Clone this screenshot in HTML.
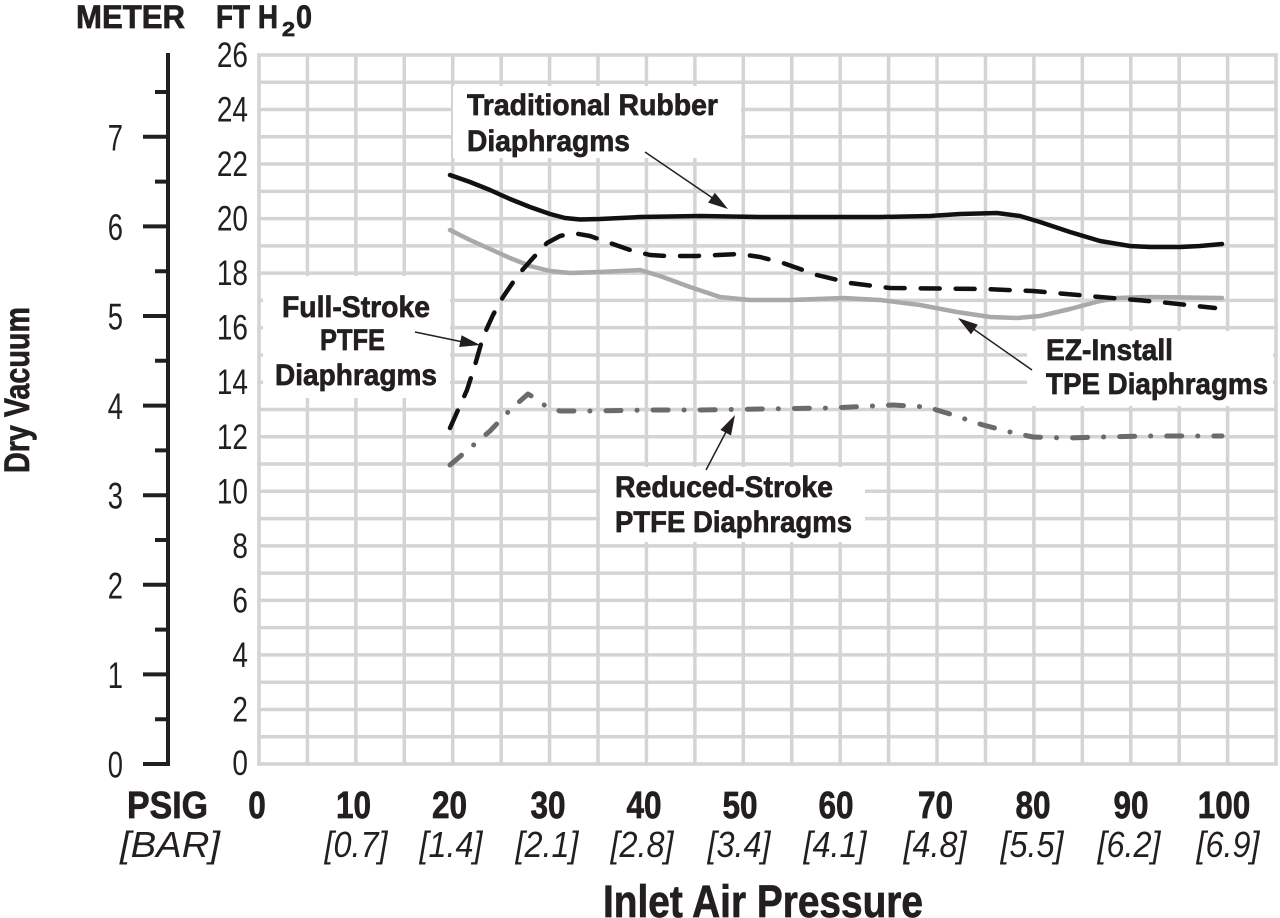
<!DOCTYPE html>
<html>
<head>
<meta charset="utf-8">
<style>
  html,body{margin:0;padding:0;background:#fff;}
  svg{display:block;}
  text{font-family:"Liberation Sans", Arial, sans-serif; fill:#231f20;}
  .b{font-weight:bold; stroke:#231f20; stroke-width:0.7px;}
  .i{font-style:italic;}
</style>
</head>
<body>
<svg width="1280" height="918" viewBox="0 0 1280 918" xmlns="http://www.w3.org/2000/svg">
  <rect width="1280" height="918" fill="#fff"/>

  <!-- grid -->
  <g stroke="#d3d4d6" stroke-width="3.5" fill="none" stroke-linecap="square">
    <path d="M259 764H1276 M259 736.73H1276 M259 709.46H1276 M259 682.19H1276 M259 654.92H1276 M259 627.65H1276 M259 600.38H1276 M259 573.11H1276 M259 545.84H1276 M259 518.57H1276 M259 491.3H1276 M259 464.03H1276 M259 436.76H1276 M259 409.49H1276 M259 382.22H1276 M259 354.95H1276 M259 327.68H1276 M259 300.41H1276 M259 273.14H1276 M259 245.87H1276 M259 218.6H1276 M259 191.33H1276 M259 164.06H1276 M259 136.79H1276 M259 109.52H1276 M259 82.25H1276 M259 55H1276"/>
    <path d="M259 55V764 M307.43 55V764 M355.86 55V764 M404.29 55V764 M452.72 55V764 M501.15 55V764 M549.58 55V764 M598.01 55V764 M646.44 55V764 M694.87 55V764 M743.3 55V764 M791.73 55V764 M840.16 55V764 M888.59 55V764 M937.02 55V764 M985.45 55V764 M1033.88 55V764 M1082.31 55V764 M1130.74 55V764 M1179.17 55V764 M1227.6 55V764 M1276.03 55V764"/>
  </g>

  <!-- white label boxes -->
  <g fill="#fff">
    <rect x="453" y="86" width="288" height="72"/>
    <rect x="263" y="276" width="187" height="122"/>
    <rect x="1027" y="331" width="246" height="75"/>
    <rect x="600" y="467" width="265" height="75"/>
  </g>

  <!-- series -->
  <g fill="none" stroke-linejoin="round">
    <polyline stroke="#a9a9ab" stroke-width="4.5" stroke-linecap="round"
      points="450,230 470,240 490,249 510,258 530,266 550,271 570,273 600,272 640,270 660,276 690,287 720,297 750,300 790,300 843,298 880,300 920,305 957,312 990,317 1017,318 1040,316 1070,309 1100,301 1117,298 1150,297 1222,298"/>
    <polyline stroke="#111" stroke-width="4.5" stroke-linecap="round"
      points="450,175 470,182 490,190 510,199 530,207 550,214 565,218 580,219.5 600,219 640,217 700,216 760,217 820,217 880,217 930,216 960,214 997,213 1020,216 1040,222 1070,232 1100,241 1130,246 1150,247 1180,247 1200,246 1222,244"/>
    <polyline stroke="#111" stroke-width="4.5" stroke-linecap="round" stroke-dasharray="19 16"
      points="450,428 458,410 467,390 475,365 483,337 493,315 503,297 518,275 533,258 547,243 560,236 573,233 590,236 610,243 630,250 650,255 667,256 697,256 740,254 760,257 783,263 817,275 850,283 890,288 983,289 1033,291 1100,297 1160,302 1215,308"/>
    <polyline stroke="#6b6b6d" stroke-width="5" stroke-linecap="round" stroke-dasharray="15 16 0.1 16"
      points="450,465 470,448 490,431 510,410 528,394 538,400 548,408 560,411 590,411 650,410 700,410 760,409 830,408 893,405 910,406 927,407 950,414 983,425 1010,432 1033,437 1067,438 1100,437 1150,436 1222,436"/>
  </g>

  <!-- arrows -->
  <g stroke="#231f20" stroke-width="1.5" fill="none">
    <line x1="645" y1="152" x2="714" y2="199"/>
    <line x1="415" y1="332" x2="463" y2="342"/>
    <line x1="1032" y1="370" x2="972" y2="328"/>
    <line x1="706" y1="470" x2="727" y2="430"/>
  </g>
  <g fill="#231f20">
    <polygon points="728,209 708.1,202.6 714.9,192.8"/>
    <polygon points="480,345 459.2,347 461.6,335.2"/>
    <polygon points="958,318 977.8,324.6 971,334.4"/>
    <polygon points="735,415 731,435.5 720.4,429.9"/>
  </g>

  <!-- annotation labels -->
  <g font-size="30">
    <text class="b" x="467" y="115" textLength="251" lengthAdjust="spacingAndGlyphs">Traditional Rubber</text>
    <text class="b" x="467" y="151" textLength="163" lengthAdjust="spacingAndGlyphs">Diaphragms</text>

    <text class="b" x="282" y="317" textLength="148" lengthAdjust="spacingAndGlyphs">Full-Stroke</text>
    <text class="b" x="320" y="350" textLength="65" lengthAdjust="spacingAndGlyphs">PTFE</text>
    <text class="b" x="275" y="385" textLength="162" lengthAdjust="spacingAndGlyphs">Diaphragms</text>

    <text class="b" x="1046" y="360" textLength="127" lengthAdjust="spacingAndGlyphs">EZ-Install</text>
    <text class="b" x="1046" y="394" textLength="222" lengthAdjust="spacingAndGlyphs">TPE Diaphragms</text>

    <text class="b" x="615" y="497" textLength="218" lengthAdjust="spacingAndGlyphs">Reduced-Stroke</text>
    <text class="b" x="615" y="532" textLength="237" lengthAdjust="spacingAndGlyphs">PTFE Diaphragms</text>
  </g>

  <!-- meter axis -->
  <g stroke="#231f20" stroke-width="4" fill="none" stroke-linecap="butt">
    <line x1="168" y1="53" x2="168" y2="766"/>
    <path d="M143 764H170 M143 674.4H170 M143 584.8H170 M143 495.2H170 M143 405.6H170 M143 316H170 M143 226.4H170 M143 136.8H170"/>
    <path d="M155 719.2H168 M155 629.6H168 M155 540H168 M155 450.4H168 M155 360.8H168 M155 271.2H168 M155 181.6H168 M155 92H168"/>
  </g>

  <!-- meter labels -->
  <g font-size="37" text-anchor="end">
    <text transform="translate(123,777.5) scale(0.74,1)">0</text>
    <text transform="translate(123,687.9) scale(0.74,1)">1</text>
    <text transform="translate(123,598.3) scale(0.74,1)">2</text>
    <text transform="translate(123,508.7) scale(0.74,1)">3</text>
    <text transform="translate(123,419.1) scale(0.74,1)">4</text>
    <text transform="translate(123,329.5) scale(0.74,1)">5</text>
    <text transform="translate(123,239.9) scale(0.74,1)">6</text>
    <text transform="translate(123,150.3) scale(0.74,1)">7</text>
  </g>

  <!-- ft labels -->
  <g font-size="35" text-anchor="end">
    <text transform="translate(248,67) scale(0.8,1)">26</text>
    <text transform="translate(248,121.5) scale(0.8,1)">24</text>
    <text transform="translate(248,176) scale(0.8,1)">22</text>
    <text transform="translate(248,230.6) scale(0.8,1)">20</text>
    <text transform="translate(248,285.1) scale(0.8,1)">18</text>
    <text transform="translate(248,339.7) scale(0.8,1)">16</text>
    <text transform="translate(248,394.2) scale(0.8,1)">14</text>
    <text transform="translate(248,448.8) scale(0.8,1)">12</text>
    <text transform="translate(248,503.3) scale(0.8,1)">10</text>
    <text transform="translate(248,557.8) scale(0.8,1)">8</text>
    <text transform="translate(248,612.4) scale(0.8,1)">6</text>
    <text transform="translate(248,666.9) scale(0.8,1)">4</text>
    <text transform="translate(248,721.5) scale(0.8,1)">2</text>
    <text transform="translate(248,775) scale(0.8,1)">0</text>
  </g>

  <!-- header -->
  <text class="b" x="76" y="28" font-size="32" textLength="109" lengthAdjust="spacingAndGlyphs">METER</text>
  <text class="b" x="216" y="28" font-size="32" textLength="62" lengthAdjust="spacingAndGlyphs">FT H</text>
  <text class="b" x="282" y="36" font-size="20" textLength="13" lengthAdjust="spacingAndGlyphs">2</text>
  <text class="b" x="296" y="28" font-size="32" textLength="16" lengthAdjust="spacingAndGlyphs">0</text>

  <!-- y title -->
  <text class="b" font-size="35" transform="translate(29,473) rotate(-90)" textLength="166" lengthAdjust="spacingAndGlyphs">Dry Vacuum</text>

  <!-- x labels -->
  <text class="b" x="127" y="818" font-size="38" textLength="81" lengthAdjust="spacingAndGlyphs">PSIG</text>
  <text class="i" x="120" y="857" font-size="36" textLength="100" lengthAdjust="spacingAndGlyphs">[BAR]</text>

  <g font-size="38" text-anchor="middle">
    <text class="b" transform="translate(257,818) scale(0.83,1)">0</text>
    <text class="b" transform="translate(353.5,818) scale(0.83,1)">10</text>
    <text class="b" transform="translate(449.5,818) scale(0.83,1)">20</text>
    <text class="b" transform="translate(548,818) scale(0.83,1)">30</text>
    <text class="b" transform="translate(644,818) scale(0.83,1)">40</text>
    <text class="b" transform="translate(740,818) scale(0.83,1)">50</text>
    <text class="b" transform="translate(836,818) scale(0.83,1)">60</text>
    <text class="b" transform="translate(935.5,818) scale(0.83,1)">70</text>
    <text class="b" transform="translate(1033,818) scale(0.83,1)">80</text>
    <text class="b" transform="translate(1131,818) scale(0.83,1)">90</text>
    <text class="b" transform="translate(1224,818) scale(0.83,1)">100</text>
  </g>

  <g font-size="36" font-style="italic" text-anchor="middle">
    <text transform="translate(356,857) scale(0.9,1)">[0.7]</text>
    <text transform="translate(451,857) scale(0.9,1)">[1.4]</text>
    <text transform="translate(547,857) scale(0.9,1)">[2.1]</text>
    <text transform="translate(642,857) scale(0.9,1)">[2.8]</text>
    <text transform="translate(739,857) scale(0.9,1)">[3.4]</text>
    <text transform="translate(835,857) scale(0.9,1)">[4.1]</text>
    <text transform="translate(935,857) scale(0.9,1)">[4.8]</text>
    <text transform="translate(1032,857) scale(0.9,1)">[5.5]</text>
    <text transform="translate(1129,857) scale(0.9,1)">[6.2]</text>
    <text transform="translate(1228,857) scale(0.9,1)">[6.9]</text>
  </g>

  <text class="b" x="603" y="917" font-size="45" textLength="320" lengthAdjust="spacingAndGlyphs">Inlet Air Pressure</text>
</svg>
</body>
</html>
